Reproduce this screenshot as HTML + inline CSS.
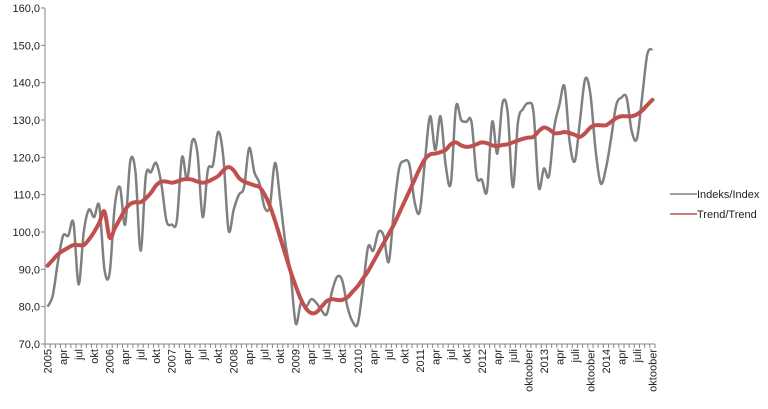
<!DOCTYPE html>
<html><head><meta charset="utf-8"><style>
html,body{margin:0;padding:0;background:#fff;}
svg{display:block;font-family:"Liberation Sans",Verdana,sans-serif;}
</style></head><body>
<svg id="chart" width="768" height="409" viewBox="0 0 768 409">
<g id="axes"></g>
<g id="series"></g>
<g id="legend">
 <line x1="670" y1="194" x2="697" y2="194" stroke="#808080" stroke-width="1.5"/>
 <text x="697" y="198" font-size="11" fill="#222">Indeks/Index</text>
 <line x1="670" y1="214" x2="697" y2="214" stroke="#c0504d" stroke-width="1.5"/>
 <text x="697" y="218" font-size="11" fill="#222">Trend/Trend</text>
</g>
</svg>
<script>
const yTicks=[70,80,90,100,110,120,130,140,150,160];
const yTickLabels=["70,0","80,0","90,0","100,0","110,0","120,0","130,0","140,0","150,0","160,0"];
const yearLabels=["2005","2006","2007","2008","2009","2010","2011","2012","2013","2014"];
const quarterLabelsEarly=["apr","jul","okt"];
const quarterLabelsLate=["apr","juli","oktoober"];
const indexValues=[80,83,92,99,99,102.5,86,100,106,104,107,90,89,107,112,102,119,116,95,115,116,118.5,113,103,102,103,120,114,124.5,121,104,116.6,118,126.8,120,100.5,106,110,112,122.5,116,113,106.5,107,118.5,108.5,97,89,75.5,81,80,82,81,79,78,84,88,87,80,76,75.5,85,96,95,100,99,92,106,117,119,118,108,105.5,119,131,122,131,118,113,133.5,130,129.5,129.5,115,114,111,129.5,121,134.5,132,112,129.5,133,134.5,132,112,117,115,128,134,139,124,119,130,141,137,122,113,117,125,134,136,136,127,125,136,147.5,149];
const trendValues=[91,92.5,94,95,95.8,96.5,96.5,96.5,98,100,102.5,105.5,98.5,101,103.5,106,107.5,108,108,109,110.5,112.5,113.5,113.5,113.2,113.5,114,114.2,114,113.5,113.2,113.5,114.2,115,116.5,117.4,116.5,114.5,113.5,113,112.5,112,110,107,103,98.5,94,89.5,85.5,82,79.5,78.3,78.5,80,81.5,82,81.8,81.8,82.5,84,85.5,87.5,89.5,92,94.5,97,99.5,102,105,108,111,114,117,119.5,120.8,121,121.4,122,123.5,124,123.2,122.8,123,123.5,124,123.8,123.2,123,123.3,123.5,124,124.5,125,125.3,125.5,127,128,127.5,126.5,126.5,126.8,126.5,126,125.5,126.5,128,128.6,128.6,128.6,129.5,130.5,131,131,131,131.5,132.5,134,135.4];

const NS="http://www.w3.org/2000/svg";
const X0=45,X1=655,Y0=344,Y1=8,VMIN=70,VMAX=160;
const N=indexValues.length;
const bw=(X1-X0)/N;
const xScale=i=>X0+bw*(i+0.5);
const yScale=v=>Y0-(v-VMIN)/(VMAX-VMIN)*(Y0-Y1);
function mk(tag,attrs,parent){const e=document.createElementNS(NS,tag);for(const k in attrs)e.setAttribute(k,attrs[k]);parent.appendChild(e);return e;}
const axes=document.getElementById('axes');
const yAxis=mk('line',{x1:X0,y1:Y1,x2:X0,y2:Y0,stroke:'#868686','stroke-width':1},axes);


yTicks.forEach((v,k)=>{
  const y=yScale(v);
  const t=mk('line',{x1:X0-4,y1:y,x2:X0,y2:y,stroke:'#868686'},axes);
  
  
  const tx=mk('text',{x:X0-5,y:y+4,'text-anchor':'end','font-size':11,fill:'#222'},axes);
  tx.textContent=yTickLabels[k];
  
  
});
const xAxis=mk('line',{x1:X0,y1:Y0,x2:X1,y2:Y0,stroke:'#868686','stroke-width':1},axes);


for(let i=0;i<=N;i++){
  const x=X0+bw*i;
  const t=mk('line',{x1:x,y1:Y0,x2:x,y2:Y0+4,stroke:'#868686'},axes);
  
  
}
for(let i=0;i<N;i+=3){
  const yr=Math.floor(i/12),q=(i%12)/3;
  let lab;
  if(q===0)lab=yearLabels[yr];
  else lab=(yr>=7?quarterLabelsLate:quarterLabelsEarly)[q-1];
  const x=xScale(i);
  const tx=mk('text',{x:0,y:0,'text-anchor':'end','font-size':11,fill:'#222',transform:`translate(${x+4},${Y0+5}) rotate(-90)`},axes);
  tx.textContent=lab;
  
  
}
function smoothPath(vals){
  const p=vals.map((v,i)=>[xScale(i),yScale(v)]);
  let d=`M${p[0][0]},${p[0][1]}`;
  for(let i=0;i<p.length-1;i++){
    const a=p[Math.max(0,i-1)],b=p[i],c=p[i+1],e=p[Math.min(p.length-1,i+2)];
    const c1=[b[0]+(c[0]-a[0])/6,b[1]+(c[1]-a[1])/6];
    const c2=[c[0]-(e[0]-b[0])/6,c[1]-(e[1]-b[1])/6];
    d+=`C${c1[0].toFixed(2)},${c1[1].toFixed(2)} ${c2[0].toFixed(2)},${c2[1].toFixed(2)} ${c[0].toFixed(2)},${c[1].toFixed(2)}`;
  }
  return d;
}
const series=document.getElementById('series');
const li=mk('path',{d:smoothPath(indexValues),fill:'none',stroke:'#808080','stroke-width':2.5,'stroke-linejoin':'round'},series);


const lt=mk('path',{d:smoothPath(trendValues),fill:'none',stroke:'#c0504d','stroke-width':4,'stroke-linejoin':'round','stroke-linecap':'round'},series);


</script>
</body></html>
